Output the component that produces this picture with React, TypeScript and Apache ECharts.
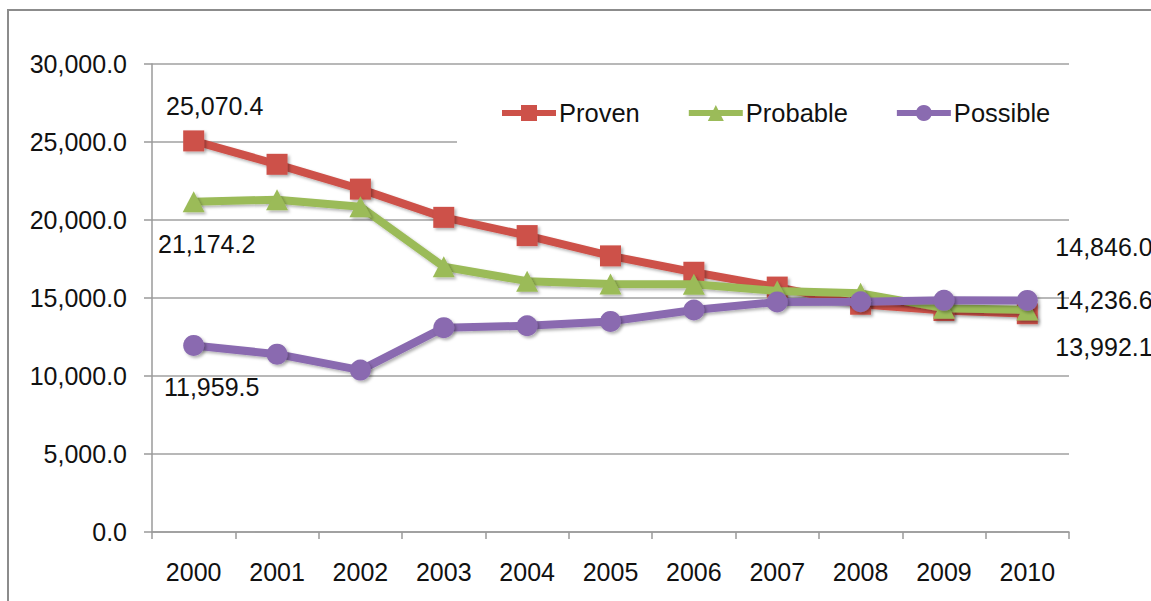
import React, { useEffect, useRef } from "react";
import * as echarts from "echarts";

const years = ["2000", "2001", "2002", "2003", "2004", "2005", "2006", "2007", "2008", "2009", "2010"];
const proven = [25070.4, 23570, 21980, 20170, 19000, 17700, 16650, 15700, 14600, 14200, 13992.1];
const probable = [21174.2, 21300, 20850, 17000, 16080, 15900, 15880, 15450, 15300, 14350, 14236.6];
const possible = [11959.5, 11400, 10380, 13100, 13220, 13500, 14230, 14750, 14760, 14850, 14846.0];
const seriesNames = ["Proven", "Probable", "Possible"];
const seriesColors = ["#CD5149", "#9BBB59", "#8A6BB0"];

const FONT = "'Liberation Sans', Arial, sans-serif";
const FS = 25;
const fmt = (v: number) =>
  v.toLocaleString("en-US", { minimumFractionDigits: 1, maximumFractionDigits: 1 });

export default function App() {
  const ref = useRef<HTMLDivElement>(null);
  useEffect(() => {
    if (!ref.current) return;
    const chart = echarts.init(ref.current, undefined, { renderer: "svg" });
    const shadow = {
      shadowColor: "rgba(0,0,0,0.3)",
      shadowBlur: 3,
      shadowOffsetX: 2,
      shadowOffsetY: 2,
    };
    const labelBase = {
      show: true,
      position: "inside" as const,
      fontFamily: FONT,
      fontSize: FS,
      color: "#111",
      formatter: (p: any) => fmt(p.value),
    };
    const mkData = (vals: number[], first: number[], last: number[]) =>
      vals.map((v, i) => {
        if (i === 0) return { value: v, label: { ...labelBase, align: "center", offset: first } };
        if (i === vals.length - 1)
          return { value: v, label: { ...labelBase, align: "left", offset: last } };
        return v;
      });
    const symbols = ["rect", "triangle", "circle"];
    const symbolSizes: any[] = [[21, 21], [22, 21], 21];
    const vals = [proven, probable, possible];
    const firstOffsets = [[21, -35], [13, 42], [18, 42]];
    const lastOffsets = [[28, 33], [28, -10], [28, -53]];
    chart.setOption({
      animation: false,
      graphic: [
        {
          type: "rect",
          shape: { x: 8, y: 10, width: 1300, height: 800 },
          style: { fill: "none", stroke: "#8c8c8c", lineWidth: 2 },
          z: 0,
        },
      ],
      grid: { left: 152, right: 82, top: 64, bottom: 69, containLabel: false },
      legend: {
        data: seriesNames,
        left: 457,
        top: 77,
        padding: [23, 40, 24, 42],
        backgroundColor: "#ffffff",
        itemWidth: 54,
        itemHeight: 20,
        itemGap: 46,
        lineStyle: { width: 6 },
        textStyle: { fontFamily: FONT, fontSize: 25.5, color: "#111", padding: [0, 0, 0, -2] },
        z: 5,
      },
      xAxis: {
        type: "category",
        data: years,
        boundaryGap: true,
        axisLine: { lineStyle: { color: "#9a9a9a", width: 1.5 } },
        axisTick: { show: true, length: 7, lineStyle: { color: "#9a9a9a", width: 1.5 } },
        axisLabel: { fontFamily: FONT, fontSize: FS, color: "#111", margin: 27 },
      },
      yAxis: {
        type: "value",
        min: 0,
        max: 30000,
        interval: 5000,
        axisLine: { show: true, lineStyle: { color: "#9a9a9a", width: 1.5 } },
        axisTick: { show: true, length: 8, lineStyle: { color: "#9a9a9a", width: 1.5 } },
        splitLine: { lineStyle: { color: "#a0a0a0", width: 1.5 } },
        axisLabel: {
          fontFamily: FONT,
          fontSize: FS,
          color: "#111",
          margin: 25,
          formatter: (v: number) => fmt(v),
        },
      },
      series: seriesNames.map((name, k) => ({
        name,
        type: "line",
        data: mkData(vals[k], firstOffsets[k], lastOffsets[k]),
        symbol: symbols[k],
        symbolSize: symbolSizes[k],
        showAllSymbol: true,
        z: 3 + k,
        lineStyle: { color: seriesColors[k], width: 8, ...shadow },
        itemStyle: { color: seriesColors[k], ...shadow },
        label: { show: false },
        emphasis: { disabled: true },
      })),
    });
    return () => chart.dispose();
  }, []);
  return (
    <div
      ref={ref}
      style={{ position: "fixed", left: 0, top: 0, width: 1151, height: 601, background: "#fff" }}
    />
  );
}
